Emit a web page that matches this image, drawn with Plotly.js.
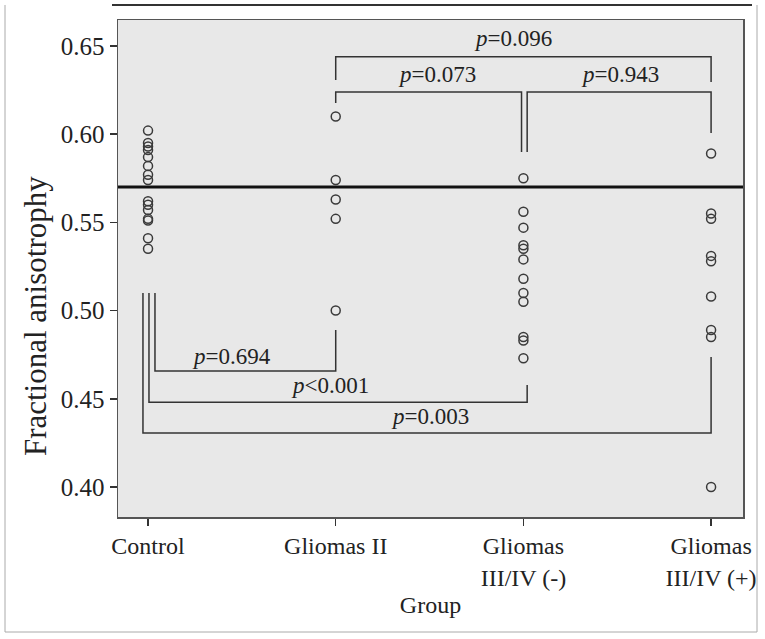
<!DOCTYPE html>
<html>
<head>
<meta charset="utf-8">
<script src="https://cdn.plot.ly/plotly-3.0.1.min.js"></script>
<style>
  body { margin: 0; background: #fff; }
  #faPlot { width: 765px; height: 639px; }
</style>
</head>
<body>
<div id="faPlot"></div>
<script>
// groups on the x axis
const groups = ['Control', 'Gliomas II', 'Gliomas<br>III/IV (-)', 'Gliomas<br>III/IV (+)'];

// fractional anisotropy values
const control = [0.602, 0.595, 0.593, 0.591, 0.587, 0.582, 0.577, 0.574, 0.562, 0.560, 0.557, 0.552, 0.551, 0.541, 0.535];
const gliomas2 = [0.610, 0.574, 0.563, 0.552, 0.500];
const gliomas34neg = [0.575, 0.556, 0.547, 0.537, 0.535, 0.529, 0.518, 0.510, 0.505, 0.485, 0.483, 0.473];
const gliomas34pos = [0.589, 0.555, 0.552, 0.531, 0.528, 0.508, 0.489, 0.485, 0.400];

const refLine = 0.570;

// comparison brackets: left/right group position, bar level, arm ends, label
const brLeft     = [0.037, 0.005, -0.027, 1.0, 1.0, 2.02];
const brRight    = [1.0, 2.02, 3.0, 3.0, 1.99, 3.0];
const brBar      = [0.4657, 0.4481, 0.4306, 0.6438, 0.6239, 0.6239];
const brLeftEnd  = [0.510, 0.510, 0.510, 0.6307, 0.6177, 0.5899];
const brRightEnd = [0.489, 0.4578, 0.4737, 0.6296, 0.5899, 0.6007];
const brLabel    = ['0.694', '<0.001', '0.003', '0.096', '0.073', '0.943'];
const brLabelX   = [0.447, 0.97, 1.50, 1.945, 1.54, 2.515];
const brLabelY   = [0.4742, 0.4578, 0.4402, 0.6545, 0.6336, 0.6336];

function groupTrace(values, idx) {
    return {
        x: values.map(() => idx),
        y: values,
        type: 'scatter',
        mode: 'markers',
        hoverinfo: 'none',
        marker: {
            symbol: 'circle-open',
            size: 9,
            color: '#3a3a3a',
            line: { width: 1.5, color: '#3a3a3a' }
        }
    };
}

var data = [
    groupTrace(control, 0),
    groupTrace(gliomas2, 1),
    groupTrace(gliomas34neg, 2),
    groupTrace(gliomas34pos, 3)
];

var shapes = [
    {
        type: 'line', xref: 'paper', yref: 'y',
        x0: 0, x1: 1, y0: refLine, y1: refLine,
        line: { color: '#111', width: 3 }
    },
    // outer frame of the figure
    { type: 'line', xref: 'paper', yref: 'paper', x0: -0.0096, x1: 1.0144, y0: 1.0302, y1: 1.0302, line: { color: '#333', width: 2 } },
    { type: 'line', xref: 'paper', yref: 'paper', x0: -0.1808, x1: -0.1808, y0: 1.0302, y1: -0.2314, line: { color: '#aaa', width: 1 } },
    { type: 'line', xref: 'paper', yref: 'paper', x0: 1.0224, x1: 1.0224, y0: 1.0302, y1: -0.2314, line: { color: '#aaa', width: 1 } },
    { type: 'line', xref: 'paper', yref: 'paper', x0: -0.1808, x1: 1.0224, y0: -0.2314, y1: -0.2314, line: { color: '#aaa', width: 1 } }
];

var annotations = [];
for (var i = 0; i < brLabel.length; i++) {
    shapes.push({
        type: 'path', xref: 'x', yref: 'y',
        path: `M ${brLeft[i]},${brLeftEnd[i]} L ${brLeft[i]},${brBar[i]} L ${brRight[i]},${brBar[i]} L ${brRight[i]},${brRightEnd[i]}`,
        line: { color: '#333', width: 1.5 }
    });
    annotations.push({
        x: brLabelX[i], y: brLabelY[i], xref: 'x', yref: 'y',
        text: `<i>p</i>${brLabel[i].startsWith('<') ? '&lt;' + brLabel[i].slice(1) : '=' + brLabel[i]}`,
        showarrow: false,
        font: { family: 'Liberation Serif', size: 23, color: '#222' }
    });
}

// y axis title, sits a bit below the middle of the axis as in the figure
annotations.push({
    x: -0.133, y: 0.404, xref: 'paper', yref: 'paper',
    xanchor: 'center', yanchor: 'middle',
    text: 'Fractional anisotrophy',
    textangle: -90,
    showarrow: false,
    font: { family: 'Liberation Serif', size: 31, color: '#222' }
});

var layout = {
    width: 765,
    height: 639,
    margin: { l: 118, r: 22, t: 20, b: 122 },
    paper_bgcolor: '#fff',
    plot_bgcolor: '#e8e8e8',
    showlegend: false,
    font: { family: 'Liberation Serif', size: 24, color: '#222' },
    xaxis: {
        range: [-0.16, 3.17],
        tickvals: [0, 1, 2, 3],
        ticktext: groups,
        ticks: 'outside',
        ticklen: 7,
        tickcolor: '#333',
        tickwidth: 1.5,
        showgrid: false,
        zeroline: false,
        showline: true,
        mirror: true,
        linecolor: '#555',
        linewidth: 1.5,
        tickfont: { size: 24 },
        title: { text: 'Group', font: { size: 24 }, standoff: 6 }
    },
    yaxis: {
        range: [0.383, 0.6647],
        tickvals: [0.40, 0.45, 0.50, 0.55, 0.60, 0.65],
        tickformat: '.2f',
        ticks: 'outside',
        ticklen: 7,
        tickcolor: '#333',
        tickwidth: 1.5,
        showgrid: false,
        zeroline: false,
        showline: true,
        mirror: true,
        linecolor: '#555',
        linewidth: 1.5,
        tickfont: { size: 25 }
    },
    shapes: shapes,
    annotations: annotations
};

Plotly.newPlot('faPlot', data, layout, { staticPlot: true });
</script>
</body>
</html>
